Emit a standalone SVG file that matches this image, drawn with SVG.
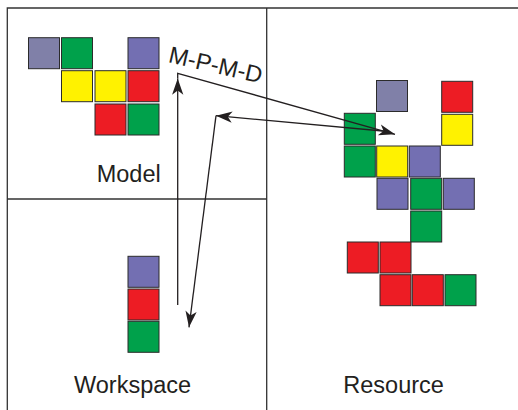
<svg xmlns="http://www.w3.org/2000/svg" xmlns:xlink="http://www.w3.org/1999/xlink" width="518" height="410" viewBox="0 0 518 410">
<style>
.frame{stroke:#333;stroke-width:1.3;fill:none}
.sq{stroke:#2b2b2b;stroke-width:1}
.g{fill:#00a14b}.y{fill:#fff200}.r{fill:#ed1c24}.p{fill:#736fb2}.q{fill:#8080a8}
.lbl{font-family:"Liberation Sans",Arial,sans-serif;font-size:23.5px;fill:#231f20}
.arr{stroke:#231f20;stroke-width:1.3;fill:none}
</style>
<defs>
<marker id="ah" markerUnits="userSpaceOnUse" orient="auto" markerWidth="20" markerHeight="20" refX="0" refY="0" viewBox="-14 -7 16 14" overflow="visible">
<path d="M0,0 L-13,-4.5 L-9.5,0 L-13,4.5 Z" fill="#231f20"/>
</marker>
</defs>
<g id="frame">
<path class="frame" d="M7.3,410 V8 H518 M266.7,8 V410 M7.3,199 H266.7"/>
</g>
<g id="model">
<rect class="sq q" x="28.5" y="37.7" width="31" height="31"/>
<rect class="sq g" x="61.5" y="37.7" width="31" height="31"/>
<rect class="sq p" x="128" y="37.7" width="31" height="31"/>
<rect class="sq y" x="61.5" y="70.7" width="31" height="31"/>
<rect class="sq y" x="95" y="70.7" width="31" height="31"/>
<rect class="sq r" x="128" y="70.7" width="31" height="31"/>
<rect class="sq r" x="95" y="104" width="31" height="31"/>
<rect class="sq g" x="128" y="104" width="31" height="31"/>
<text class="lbl" x="96.7" y="181.7">Model</text>
</g>
<g id="workspace">
<rect class="sq p" x="128" y="256.3" width="31" height="31"/>
<rect class="sq r" x="128" y="289" width="31" height="31"/>
<rect class="sq g" x="128" y="321.3" width="31" height="31"/>
<text class="lbl" x="74" y="392.7">Workspace</text>
</g>
<g id="resource">
<rect class="sq q" x="376.5" y="80.5" width="31" height="31"/>
<rect class="sq r" x="441.7" y="81.3" width="31" height="31"/>
<rect class="sq g" x="344.3" y="113.3" width="31" height="31"/>
<rect class="sq y" x="441.7" y="114.3" width="31" height="31"/>
<rect class="sq g" x="344.3" y="146" width="31" height="31"/>
<rect class="sq y" x="376.7" y="146" width="31" height="31"/>
<rect class="sq p" x="409.3" y="146" width="31" height="31"/>
<rect class="sq p" x="377" y="178.3" width="31" height="31"/>
<rect class="sq g" x="410.7" y="178.3" width="31" height="31"/>
<rect class="sq p" x="443.3" y="178.3" width="31" height="31"/>
<rect class="sq g" x="410.7" y="211" width="31" height="31"/>
<rect class="sq r" x="347.3" y="242" width="31" height="31"/>
<rect class="sq r" x="380" y="242" width="31" height="31"/>
<rect class="sq r" x="380" y="274.7" width="31" height="31"/>
<rect class="sq r" x="412.3" y="274.7" width="31" height="31"/>
<rect class="sq g" x="445" y="274.7" width="31" height="31"/>
<text class="lbl" x="343.3" y="392.7">Resource</text>
</g>
<g id="connectors">
<path class="arr" d="M177.7,305 V78.5" marker-end="url(#ah)"/>
<path class="arr" d="M177.7,78.5 V73.3 L395,134.3" marker-end="url(#ah)"/>
<path class="arr" d="M388,131.5 L216,115.7" marker-end="url(#ah)"/>
<path class="arr" d="M216,115.7 L189,327.3" marker-end="url(#ah)"/>
<text class="lbl" x="0" y="0" font-size="23" transform="translate(167.5,62) rotate(13)">M-P-M-D</text>
</g>
</svg>
